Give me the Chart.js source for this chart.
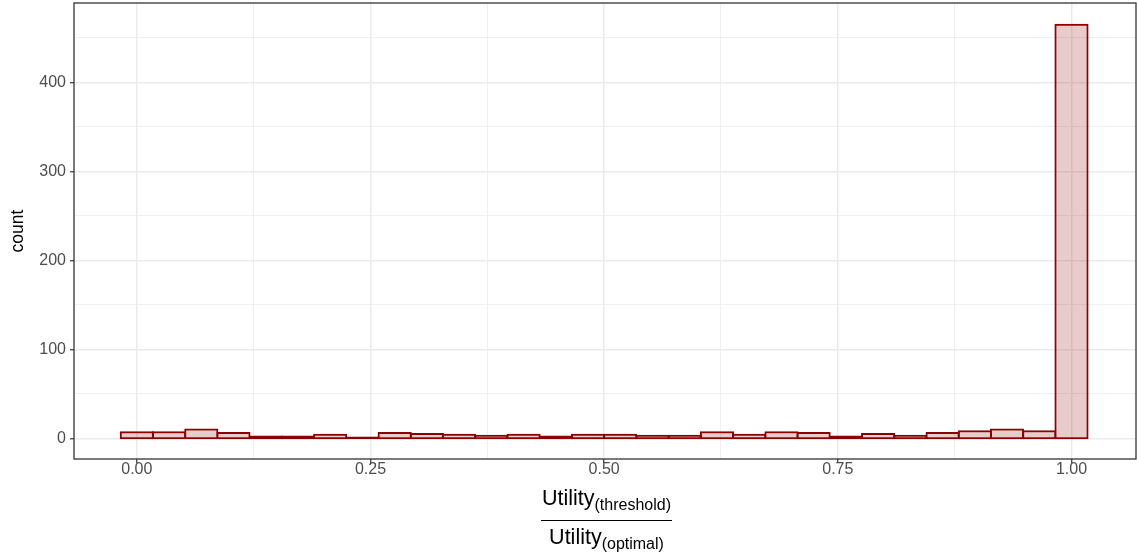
<!DOCTYPE html>
<html>
<head>
<meta charset="utf-8">
<script src="https://cdn.jsdelivr.net/npm/chart.js@4.4.1/dist/chart.umd.min.js"></script>
<style>
  html, body { margin: 0; padding: 0; background: #ffffff; }
  #wrap { width: 1137px; height: 559px; }
</style>
</head>
<body>
<div id="wrap"><canvas id="c" width="1137" height="559"></canvas></div>
<script>
// ---- data ----
const binCenters = [0, 0.0345, 0.0690, 0.1034, 0.1379, 0.1724, 0.2069, 0.2414, 0.2759, 0.3103,
  0.3448, 0.3793, 0.4138, 0.4483, 0.4828, 0.5172, 0.5517, 0.5862, 0.6207, 0.6552,
  0.6897, 0.7241, 0.7586, 0.7931, 0.8276, 0.8621, 0.8966, 0.9310, 0.9655, 1.0];
const counts = [8, 8, 11, 7, 3, 3, 5, 2, 7, 6,
  5, 4, 5, 3, 5, 5, 4, 4, 8, 5,
  8, 7, 3, 6, 4, 7, 9, 11, 9, 466];
const xMajorTicks = [0, 0.25, 0.5, 0.75, 1.0];
const xMinorTicks = [0.125, 0.375, 0.625, 0.875];
const xTickLabels = ['0.00', '0.25', '0.50', '0.75', '1.00'];
const yMajorTicks = [0, 100, 200, 300, 400];
const yMinorTicks = [50, 150, 250, 350, 450];
const yTitle = 'count';
const xTitleNum = ['Utility', '(threshold)'];
const xTitleDen = ['Utility', '(optimal)'];

const FONT = '"Liberation Sans", Arial, Helvetica, sans-serif';
const barData = binCenters.map((x, i) => ({ x: x, y: counts[i] }));

function isIn(arr, v) { return arr.some(a => Math.abs(a - v) < 1e-9); }
function isMajor(arr, c) { return !!(c && c.tick && isIn(arr, c.tick.value)); }

const decorPlugin = {
  id: 'decor',
  afterDraw(chart) {
    const ctx = chart.ctx;
    const a = chart.chartArea;
    ctx.save();
    ctx.strokeStyle = '#333333';
    ctx.lineWidth = 1.3;
    ctx.strokeRect(a.left, a.top, a.right - a.left, a.bottom - a.top);
    ctx.fillStyle = '#000000';
    ctx.font = '17.5px ' + FONT;
    ctx.textAlign = 'center';
    ctx.textBaseline = 'middle';
    ctx.translate(18, (a.top + a.bottom) / 2);
    ctx.rotate(-Math.PI / 2);
    ctx.fillText(yTitle, 0, 0);
    ctx.restore();

    ctx.save();
    ctx.fillStyle = '#000000';
    ctx.textBaseline = 'alphabetic';
    ctx.textAlign = 'left';
    const cx = (a.left + a.right) / 2 + 1.5;
    const mainF = '21.5px ' + FONT, subF = '16px ' + FONT;
    function drawPair(pair, baseY) {
      ctx.font = mainF; const w1 = ctx.measureText(pair[0]).width;
      ctx.font = subF; const w2 = ctx.measureText(pair[1]).width;
      const x0 = cx - (w1 + w2) / 2;
      ctx.font = mainF; ctx.fillText(pair[0], x0, baseY);
      ctx.font = subF; ctx.fillText(pair[1], x0 + w1, baseY + 5);
      return w1 + w2;
    }
    const wn = drawPair(xTitleNum, 505);
    drawPair(xTitleDen, 544);
    ctx.strokeStyle = '#000000';
    ctx.lineWidth = 1.2;
    ctx.beginPath();
    ctx.moveTo(cx - wn / 2 - 1, 520.5);
    ctx.lineTo(cx + wn / 2 + 1, 520.5);
    ctx.stroke();
    ctx.restore();
  }
};

new Chart(document.getElementById('c'), {
  type: 'bar',
  data: {
    datasets: [{
      data: barData,
      backgroundColor: 'rgba(139,0,0,0.2)',
      borderColor: '#8B0000',
      borderWidth: 2,
      borderSkipped: false,
      base: -1.1,
      barPercentage: 1.062,
      categoryPercentage: 1.0
    }]
  },
  options: {
    responsive: false,
    animation: false,
    events: [],
    layout: { padding: { top: 3, right: 1, left: 0, bottom: 0 } },
    plugins: { legend: { display: false }, tooltip: { enabled: false }, title: { display: false } },
    scales: {
      x: {
        type: 'linear',
        offset: false,
        min: -0.0672,
        max: 1.069,
        afterBuildTicks(scale) {
          scale.ticks = xMajorTicks.concat(xMinorTicks).sort((p, q) => p - q).map(v => ({ value: v }));
        },
        afterFit(scale) { scale.height = 100; scale.paddingLeft = 0; scale.paddingRight = 0; },
        grid: {
          offset: false,
          color: '#EBEBEB',
          lineWidth: (c) => isMajor(xMajorTicks, c) ? 1.5 : 0.75,
          tickColor: (c) => isMajor(xMajorTicks, c) ? '#333333' : 'rgba(0,0,0,0)',
          tickLength: 4,
          tickWidth: 1.2
        },
        border: { display: false },
        ticks: {
          autoSkip: false,
          maxRotation: 0,
          padding: -3,
          color: '#4D4D4D',
          font: { family: FONT, size: 16 },
          callback: (v) => { const i = xMajorTicks.findIndex(t => Math.abs(t - v) < 1e-9); return i >= 0 ? xTickLabels[i] : ''; }
        }
      },
      y: {
        type: 'linear',
        min: -23.3,
        max: 489.3,
        afterBuildTicks(scale) {
          scale.ticks = yMajorTicks.concat(yMinorTicks).sort((p, q) => p - q).map(v => ({ value: v }));
        },
        afterFit(scale) { scale.width = 74; scale.paddingTop = 0; scale.paddingBottom = 0; },
        grid: {
          color: '#EBEBEB',
          lineWidth: (c) => isMajor(yMajorTicks, c) ? 1.5 : 0.75,
          tickColor: (c) => isMajor(yMajorTicks, c) ? '#333333' : 'rgba(0,0,0,0)',
          tickLength: 4,
          tickWidth: 1.2
        },
        border: { display: false },
        ticks: {
          autoSkip: false,
          padding: 4,
          color: '#4D4D4D',
          font: { family: FONT, size: 16 },
          callback: (v) => isIn(yMajorTicks, v) ? String(v) : ''
        }
      }
    }
  },
  plugins: [decorPlugin]
});
</script>
</body>
</html>
